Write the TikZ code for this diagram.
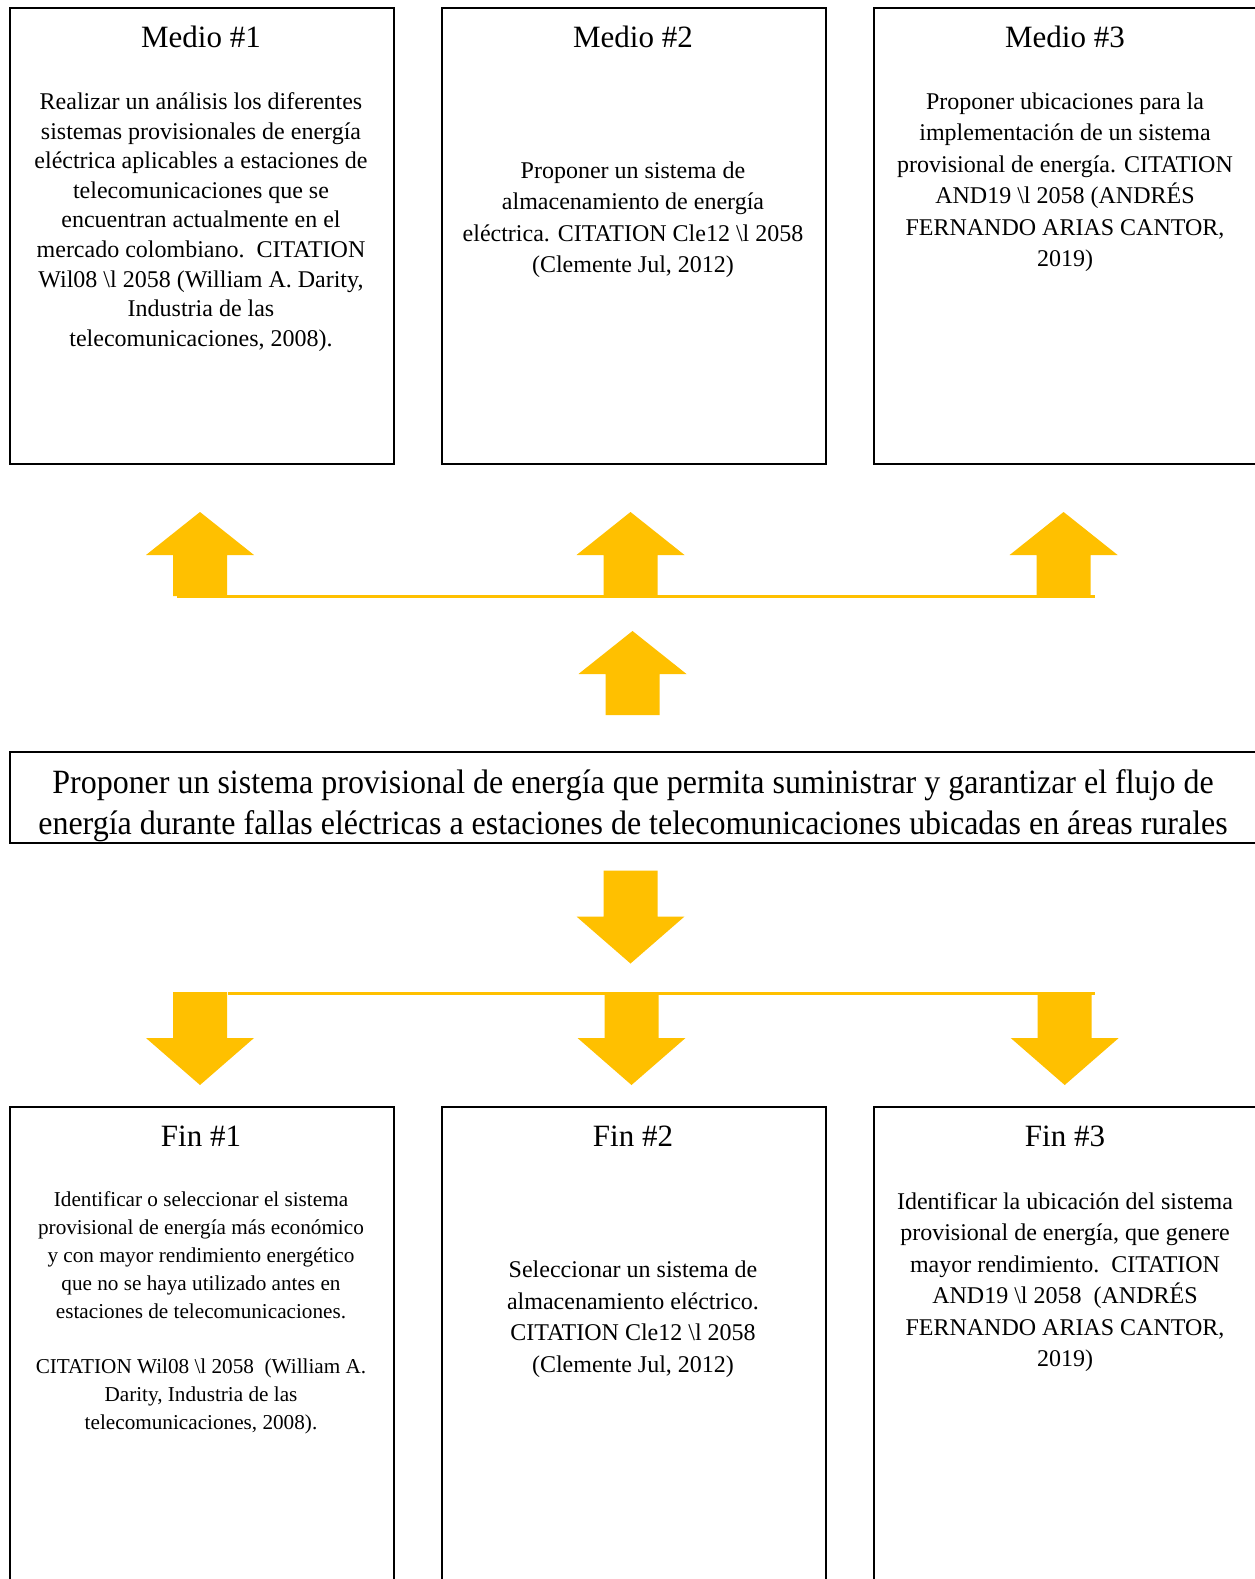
\documentclass[tikz,border=0pt]{standalone}
\usepackage{fontspec}
\setmainfont{Liberation Serif}
\usetikzlibrary{positioning}

\definecolor{arrowgold}{RGB}{255,192,0}

\begin{document}
\begin{tikzpicture}[x=1pt, y=-1pt,
        box/.style={draw, line width=2pt, anchor=north west, minimum width=384pt, inner sep=0pt},
        titletext/.style={inner sep=0pt, font=\fontsize{31}{37}\selectfont},
        bodytext/.style 2 args={inner sep=0pt, align=center, font=\fontsize{#1}{#2}\selectfont},
        goldline/.style={draw=arrowgold, line width=3pt},
        uparrow/.pic={\fill[arrowgold] (0,-43) -- (54,0) -- (27,0) -- (27,41) -- (-27,41) -- (-27,0) -- (-54,0) -- cycle;},
        downarrow/.pic={\fill[arrowgold] (0,47) -- (54,0) -- (27,0) -- (27,-46) -- (-27,-46) -- (-27,0) -- (-54,0) -- cycle;}]
        \clip (0,0) rectangle (1255,1579);
        \fill[white] (0,0) rectangle (1255,1579);

        \node[box, minimum height=456pt] (m1) at (9,7) {};
        \node[box, minimum height=456pt] (m2) at (441,7) {};
        \node[box, minimum height=456pt] (m3) at (873,7) {};
        \node[titletext] (m1title) at (201,37) {Medio \#1};
        \node[titletext] (m2title) at (633,37) {Medio \#2};
        \node[titletext] (m3title) at (1065,37) {Medio \#3};
        \node[bodytext={24}{29.6}] (m1text) at (201,222) {Realizar un análisis los diferentes\\
            sistemas provisionales de energía\\ eléctrica aplicables a estaciones de\\
            telecomunicaciones que se\\ encuentran actualmente en el\\
            mercado colombiano.\ \ CITATION\\ Wil08 \textbackslash l 2058 (William A. Darity,\\
            Industria de las\\ telecomunicaciones, 2008).};
        \node[bodytext={24}{31.5}] (m2text) at (633,219.5) {Proponer un sistema de\\
            almacenamiento de energía\\ eléctrica. CITATION Cle12 \textbackslash l 2058\\
            (Clemente Jul, 2012)};
        \node[bodytext={24}{31.5}] (m3text) at (1065,182) {Proponer ubicaciones para la\\
            implementación de un sistema\\ provisional de energía. CITATION\\
            AND19 \textbackslash l 2058 (ANDRÉS\\ FERNANDO ARIAS CANTOR,\\ 2019)};

        \foreach \x in {200,630.5,1063.6}
            \pic at (\x,555) {uparrow};
        \coordinate (upl) at (177,596);
        \coordinate (upr) at (1095,596);
        \draw[goldline] (upl) -- (upr);
        \pic at (632.5,674) {uparrow};

        \node[box, minimum width=1260pt, minimum height=91pt] (goal) at (9,751) {};
        \begin{scope}
            \clip (9,751) rectangle (1265,842);
            \node[bodytext={34}{41}, xscale=0.94, transform shape] (goaltext) at (633,806) {Proponer un sistema provisional de energía que permita suministrar y garantizar el flujo de\\
                energía durante fallas eléctricas a estaciones de telecomunicaciones ubicadas en áreas rurales};
        \end{scope}

        \pic at (630.5,916.5) {downarrow};
        \coordinate (downl) at (228,993);
        \coordinate (downr) at (1095,993);
        \draw[goldline] (downl) -- (downr);
        \foreach \x in {200,631.5,1064.7}
            \pic at (\x,1038) {downarrow};

        \node[box, minimum height=500pt] (f1) at (9,1106) {};
        \node[box, minimum height=500pt] (f2) at (441,1106) {};
        \node[box, minimum height=500pt] (f3) at (873,1106) {};
        \node[titletext] (f1title) at (201,1136) {Fin \#1};
        \node[titletext] (f2title) at (633,1136) {Fin \#2};
        \node[titletext] (f3title) at (1065,1136) {Fin \#3};
        \node[bodytext={21.2}{28}] (f1text) at (201,1312.5) {Identificar o seleccionar el sistema\\
            provisional de energía más económico\\ y con mayor rendimiento energético\\
            que no se haya utilizado antes en\\ estaciones de telecomunicaciones.\\[27pt]
            CITATION Wil08 \textbackslash l 2058\ \ (William A.\\ Darity, Industria de las\\
            telecomunicaciones, 2008).};
        \node[bodytext={24}{31.5}] (f2text) at (633,1319) {Seleccionar un sistema de\\
            almacenamiento eléctrico.\\ CITATION Cle12 \textbackslash l 2058\\
            (Clemente Jul, 2012)};
        \node[bodytext={24}{31.5}] (f3text) at (1065,1282) {Identificar la ubicación del sistema\\
            provisional de energía, que genere\\ mayor rendimiento.\ \ CITATION\\
            AND19 \textbackslash l 2058\ \ (ANDRÉS\\ FERNANDO ARIAS CANTOR,\\ 2019)};
\end{tikzpicture}
\end{document}
